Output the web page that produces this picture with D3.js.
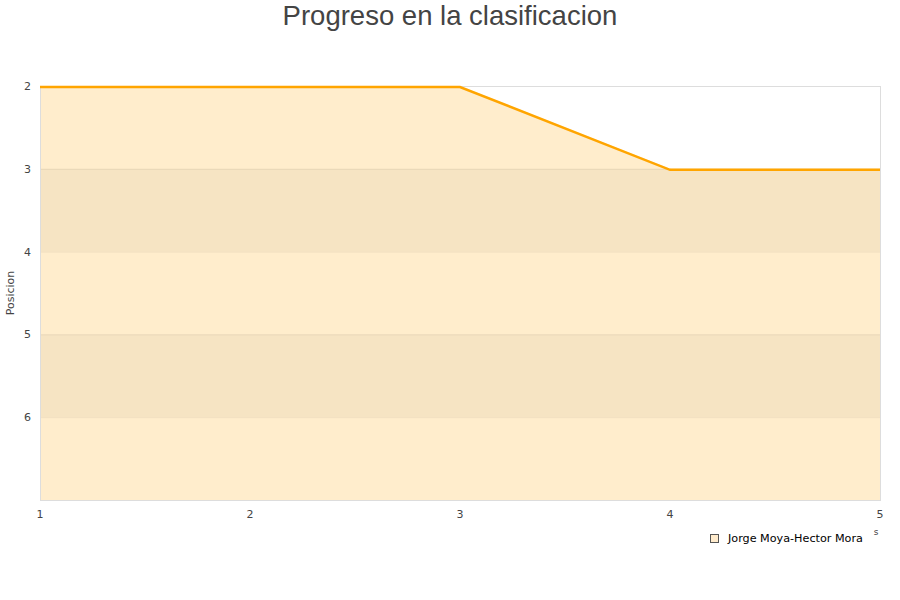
<!DOCTYPE html>
<html><head><meta charset="utf-8">
<script src="https://cdn.jsdelivr.net/npm/d3@7"></script>
<style>body{margin:0;background:#fff}svg{display:block}</style>
</head><body>
<svg id="c" width="900" height="600"></svg>
<script>
const rounds = [1, 2, 3, 4, 5];
const positions = [2, 2, 2, 3, 3];
const yTicks = [2, 3, 4, 5, 6];
const yDomain = [2, 7];
const seriesName = "Jorge Moya-Hector Mora";
const title = "Progreso en la clasificacion";
const yLabel = "Posicion";

const svg = d3.select("#c");
const m = {l: 40, r: 880, t: 86, b: 500};
const x = d3.scaleLinear().domain([1, 5]).range([m.l, m.r]);
const y = d3.scaleLinear().domain(yDomain).range([m.t, m.b]);

// alternating bands
const bands = d3.range(yDomain[0], yDomain[1]);
svg.append("g").selectAll("rect").data(bands).join("rect")
  .attr("x", m.l).attr("width", m.r - m.l)
  .attr("y", d => y(d)).attr("height", d => y(d + 1) - y(d))
  .attr("fill", (d, i) => i % 2 ? "#f4f4f4" : "#ffffff");

const data = rounds.map((r, i) => ({r, p: positions[i]}));
// area
svg.append("path").datum(data)
  .attr("d", d3.area().x(d => x(d.r)).y0(y(yDomain[1])).y1(d => y(d.p)))
  .attr("fill", "#ffa500").attr("fill-opacity", 0.2);

// grid lines
svg.append("g").selectAll("line").data(yTicks.slice(1)).join("line")
  .attr("x1", m.l).attr("x2", m.r).attr("y1", d => y(d) + 0.5).attr("y2", d => y(d) + 0.5)
  .attr("stroke", "#000").attr("stroke-opacity", 0.06);

// frame
svg.append("rect").attr("x", m.l + 0.5).attr("y", m.t + 0.5)
  .attr("width", m.r - m.l).attr("height", m.b - m.t)
  .attr("fill", "none").attr("stroke", "#ddd");

// line
svg.append("path").datum(data)
  .attr("d", d3.line().x(d => x(d.r)).y(d => y(d.p) + 1))
  .attr("fill", "none").attr("stroke", "#ffa500").attr("stroke-width", 2.5);

// y axis labels
svg.append("g").selectAll("text").data(yTicks).join("text")
  .attr("x", 31).attr("y", d => y(d) + 4).attr("text-anchor", "end")
  .attr("font-family", "DejaVu Sans, sans-serif").attr("font-size", 11).attr("fill", "#444")
  .text(d => d);

// x axis labels
svg.append("g").selectAll("text").data(rounds).join("text")
  .attr("x", d => x(d)).attr("y", 518).attr("text-anchor", "middle")
  .attr("font-family", "DejaVu Sans, sans-serif").attr("font-size", 11).attr("fill", "#444")
  .text(d => d);

// y label
svg.append("text").attr("transform", "translate(14,293) rotate(-90)")
  .attr("text-anchor", "middle").attr("font-family", "DejaVu Sans, sans-serif")
  .attr("font-size", 11).attr("fill", "#444").text(yLabel);

// title
svg.append("text").attr("x", 450).attr("y", 25).attr("text-anchor", "middle")
  .attr("font-family", "Liberation Sans, Arial, sans-serif").attr("font-size", 27.5)
  .attr("fill", "#444").text(title);

// stray tiny axis title fragment
svg.append("text").attr("x", 876).attr("y", 535).attr("text-anchor", "middle")
  .attr("font-family", "DejaVu Sans, sans-serif").attr("font-size", 9).attr("fill", "#444").text("s");

// legend
svg.append("rect").attr("x", 710.5).attr("y", 534.5).attr("width", 8).attr("height", 8)
  .attr("fill", "#ffebcc").attr("stroke", "#555").attr("stroke-width", 1);
svg.append("text").attr("x", 728).attr("y", 542)
  .attr("font-family", "DejaVu Sans, sans-serif").attr("font-size", 11.2).attr("fill", "#000")
  .text(seriesName);
</script>
</body></html>
